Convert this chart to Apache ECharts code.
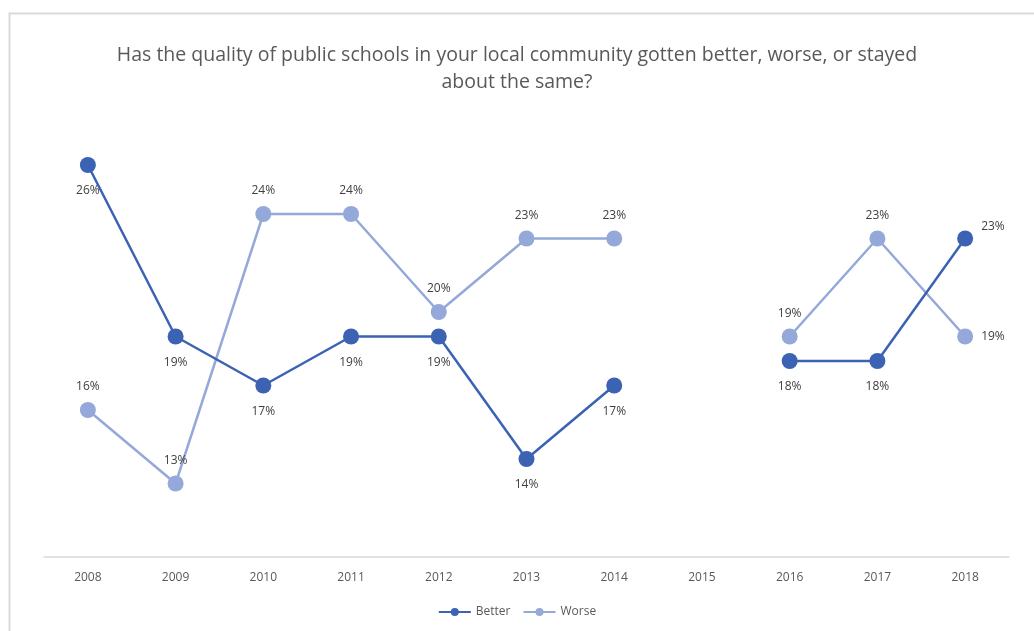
<!DOCTYPE html>
<html>
<head>
<meta charset="utf-8">
<script src="https://cdn.jsdelivr.net/npm/echarts@6/dist/echarts.min.js"></script>
<style>
  html, body { margin: 0; padding: 0; background: #ffffff; }
  #chart { width: 1034px; height: 631px; }
</style>
</head>
<body>
<div id="chart"></div>
<script>
// Survey years (2015 has no data)
const years = ['2008', '2009', '2010', '2011', '2012', '2013', '2014', '2015', '2016', '2017', '2018'];
// Share of respondents (%)
const better = [26, 19, 17, 19, 19, 14, 17, null, 18, 18, 23];
const worse  = [16, 13, 24, 24, 20, 23, 23, null, 19, 23, 19];

const titleText = 'Has the quality of public schools in your local community gotten better, worse, or stayed\nabout the same?';

const BETTER_COLOR = '#3b62b3';
const WORSE_COLOR = '#94a9da';
const FONT = '"Open Sans", "Noto Sans", sans-serif';

const labelStyle = { fontFamily: FONT, fontSize: 12, color: '#404040', formatter: p => p.value + '%' };

function betterPoint(v, i) {
  if (v === null) return null;
  if (i === years.length - 1) {
    return { value: v, label: { position: 'right', distance: 8, offset: [0, -12] } };
  }
  return v;
}
function worsePoint(v, i) {
  if (v === null) return null;
  if (i === years.length - 1) {
    return { value: v, label: { position: 'right', distance: 8 } };
  }
  return v;
}

const chart = echarts.init(document.getElementById('chart'), null, { renderer: 'canvas' });
chart.setOption({
  backgroundColor: '#ffffff',
  animation: false,
  graphic: [{
    type: 'rect',
    left: 7, top: 11,
    shape: { width: 1050, height: 650 },
    style: { fill: 'none', stroke: '#d9d9d9', lineWidth: 2 },
    z: -1
  }],
  title: {
    text: titleText,
    left: 'center',
    top: 37,
    textStyle: { fontFamily: FONT, fontSize: 19.5, fontWeight: 'normal', color: '#595959', lineHeight: 27, align: 'center' }
  },
  legend: {
    bottom: 8,
    left: 'center',
    itemWidth: 32,
    itemHeight: 10,
    itemGap: 12,
    textStyle: { fontFamily: FONT, fontSize: 12, color: '#595959' },
    data: ['Better', 'Worse']
  },
  grid: { left: 44, right: 25, top: 67, bottom: 74 },
  xAxis: {
    type: 'category',
    data: years,
    boundaryGap: true,
    axisLine: { lineStyle: { color: '#d9d9d9', width: 1.5 } },
    axisTick: { show: false },
    axisLabel: { fontFamily: FONT, fontSize: 12, color: '#595959', margin: 15 }
  },
  yAxis: {
    type: 'value',
    min: 10, max: 30,
    show: false,
    splitLine: { show: false }
  },
  series: [
    {
      name: 'Better',
      type: 'line',
      data: better.map(betterPoint),
      connectNulls: false,
      symbol: 'circle',
      symbolSize: 16,
      itemStyle: { color: BETTER_COLOR },
      lineStyle: { color: BETTER_COLOR, width: 2.5 },
      label: Object.assign({ show: true, position: 'bottom', distance: 12 }, labelStyle),
      z: 3
    },
    {
      name: 'Worse',
      type: 'line',
      data: worse.map(worsePoint),
      connectNulls: false,
      symbol: 'circle',
      symbolSize: 16,
      itemStyle: { color: WORSE_COLOR },
      lineStyle: { color: WORSE_COLOR, width: 2.5 },
      label: Object.assign({ show: true, position: 'top', distance: 9 }, labelStyle),
      z: 2
    }
  ]
});
</script>
</body>
</html>
